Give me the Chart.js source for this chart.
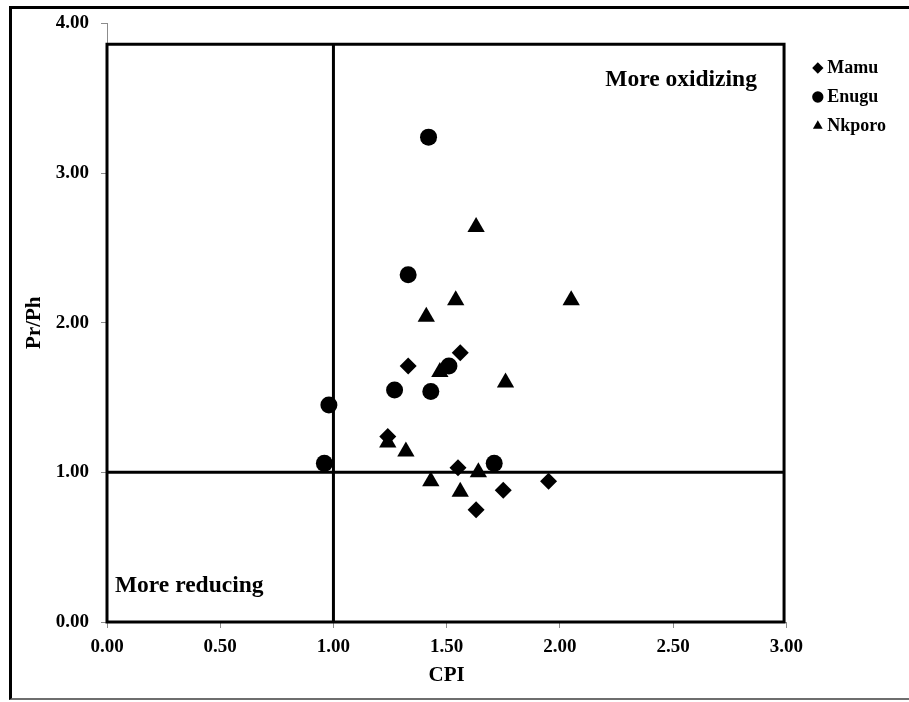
<!DOCTYPE html>
<html>
<head>
<meta charset="utf-8">
<script src="https://cdn.jsdelivr.net/npm/chart.js@4.4.1/dist/chart.umd.min.js"></script>
<style>
  html, body { margin: 0; padding: 0; background: #fff; overflow: hidden; }
  #wrap { position: relative; width: 909px; height: 702px; overflow: hidden; }
  #frame {
    position: absolute; left: 9px; top: 6px; width: 960px; height: 689px;
    border-left: 3px solid #000; border-top: 3px solid #000; border-bottom: 2px solid #6e6e6e;
  }
  #chart { position: absolute; left: 0; top: 0; }
</style>
</head>
<body>
<div id="wrap">
  <div id="frame"></div>
  <canvas id="chart" width="909" height="702"></canvas>
</div>
<script>
// CPI vs Pr/Ph per formation
const mamuCPI    = [1.56, 1.33, 1.24, 1.55, 1.75, 1.63, 1.95];
const mamuPrPh   = [1.80, 1.71, 1.24, 1.03, 0.88, 0.75, 0.94];
const enuguCPI   = [1.42, 1.33, 1.51, 1.27, 1.43, 0.98, 0.96, 1.71];
const enuguPrPh  = [3.24, 2.32, 1.71, 1.55, 1.54, 1.45, 1.06, 1.06];
const nkporoCPI  = [1.63, 1.54, 2.05, 1.41, 1.47, 1.76, 1.24, 1.32, 1.43, 1.64, 1.56];
const nkporoPrPh = [2.64, 2.15, 2.15, 2.04, 1.67, 1.60, 1.20, 1.14, 0.94, 1.00, 0.87];

const xTicks = [0, 0.5, 1, 1.5, 2, 2.5, 3];
const yTicks = [0, 1, 2, 3, 4];

// plot frame and the CPI = 1 / Pr/Ph = 1 dividers
const frameTop = 3.86;
const frameRight = 2.99;
const cpiDivide = 1;
const prphDivide = 1;

const serif = '"Liberation Serif", "Times New Roman", serif';

const toPoints = (xs, ys) => xs.map((v, i) => ({ x: v, y: ys[i] }));

const markers = (label, xs, ys, style, radius) => ({
  label: label,
  data: toPoints(xs, ys),
  pointStyle: style,
  pointRadius: radius,
  pointHoverRadius: radius,
  backgroundColor: "#000",
  borderColor: "#000",
  borderWidth: 0,
});

const guide = (pts, cap) => ({
  label: "",
  data: pts,
  showLine: true,
  pointRadius: 0,
  borderColor: "#000",
  borderWidth: 3,
  borderCapStyle: cap,
  clip: false,
});

const quadrantText = {
  id: "quadrantText",
  afterDatasetsDraw(chart) {
    const { ctx, scales: { x, y } } = chart;
    ctx.save();
    ctx.font = "bold 23.5px " + serif;
    ctx.fillStyle = "#000";
    ctx.textBaseline = "alphabetic";
    ctx.textAlign = "right";
    ctx.fillText("More oxidizing", x.getPixelForValue(2.87), y.getPixelForValue(3.58));
    ctx.textAlign = "left";
    ctx.fillText("More reducing", x.getPixelForValue(0.035), y.getPixelForValue(0.2));
    ctx.restore();
  },
};

new Chart(document.getElementById("chart"), {
  type: "scatter",
  data: {
    datasets: [
      markers("Mamu", mamuCPI, mamuPrPh, "rectRot", 8.5),
      markers("Enugu", enuguCPI, enuguPrPh, "circle", 8.5),
      markers("Nkporo", nkporoCPI, nkporoPrPh, "triangle", 10),
      guide([
        { x: 0, y: 0 }, { x: 0, y: frameTop }, { x: frameRight, y: frameTop },
        { x: frameRight, y: 0 }, { x: 0, y: 0 },
      ], "square"),
      guide([{ x: cpiDivide, y: 0 }, { x: cpiDivide, y: frameTop }], "butt"),
      guide([{ x: 0, y: prphDivide }, { x: frameRight, y: prphDivide }], "butt"),
    ],
  },
  options: {
    responsive: false,
    animation: false,
    events: [],
    layout: { padding: { top: 23, right: 13, bottom: 0, left: 0 } },
    plugins: {
      tooltip: { enabled: false },
      legend: {
        position: "right",
        align: "start",
        title: { display: true, text: "", font: { size: 10 }, padding: { top: 13, bottom: 0 } },
        labels: {
          usePointStyle: true,
          boxWidth: 1,
          boxHeight: 8,
          padding: 11,
          color: "#000",
          font: { family: serif, size: 18, weight: "bold" },
          filter: (item) => item.datasetIndex < 3,
        },
      },
    },
    scales: {
      x: {
        type: "linear",
        min: 0,
        max: 3,
        afterBuildTicks: (s) => { s.ticks = xTicks.map((v) => ({ value: v })); },
        afterFit: (s) => { s.height = 80; },
        grid: { drawOnChartArea: false, tickLength: 6, color: "#8c8c8c" },
        border: { color: "#8c8c8c", width: 1 },
        ticks: {
          padding: 8,
          color: "#000",
          font: { family: serif, size: 19, weight: "bold" },
          callback: (v) => v.toFixed(2),
        },
        title: {
          display: true,
          text: "CPI",
          color: "#000",
          font: { family: serif, size: 21, weight: "bold" },
          padding: { top: 0, bottom: 14 },
        },
      },
      y: {
        type: "linear",
        min: 0,
        max: 4,
        afterBuildTicks: (s) => { s.ticks = yTicks.map((v) => ({ value: v })); },
        afterFit: (s) => { s.width = 107; },
        grid: { drawOnChartArea: false, tickLength: 6, color: "#8c8c8c" },
        border: { color: "#8c8c8c", width: 1 },
        ticks: {
          padding: 12,
          color: "#000",
          font: { family: serif, size: 19, weight: "bold" },
          callback: (v) => v.toFixed(2),
        },
        title: {
          display: true,
          text: "Pr/Ph",
          color: "#000",
          font: { family: serif, size: 21, weight: "bold" },
          padding: { top: 22, bottom: 0 },
        },
      },
      // empty gap between the plot and the legend
      gap: {
        type: "linear",
        position: "right",
        grid: { display: false },
        border: { display: false },
        ticks: { display: false },
        afterFit: (s) => { s.width = 20; },
      },
    },
  },
  plugins: [quadrantText],
});
</script>
</body>
</html>
